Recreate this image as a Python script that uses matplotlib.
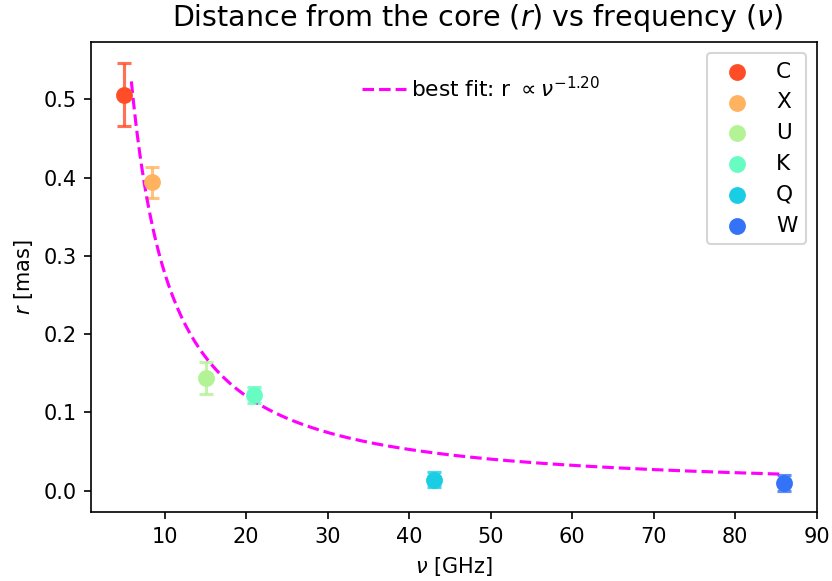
import numpy as np
import matplotlib.pyplot as plt

# frequency bands and measured core distances
bands = ['C', 'X', 'U', 'K', 'Q', 'W']
freq = np.array([5.0, 8.4, 15.0, 21.0, 43.0, 86.0])
r = np.array([0.506, 0.394, 0.144, 0.122, 0.014, 0.010])
r_err = np.array([0.040, 0.020, 0.020, 0.010, 0.010, 0.010])

# power-law fit r = a * nu^-b
fit_a = 4.4
fit_b = 1.20
fit_lo, fit_hi = 5.9, 86.0

fig = plt.figure(figsize=(832/150, 581/150), dpi=150)
ax = fig.add_subplot(111)
fig.subplots_adjust(left=0.1094, right=0.982, bottom=0.1188, top=0.9277)

colors = plt.cm.rainbow(np.linspace(0.9, 0.15, len(bands)))

points = []
for i in range(len(bands)):
    ax.errorbar(freq[i], r[i], yerr=r_err[i], fmt='none', ecolor=colors[i],
                alpha=0.8, capsize=3.5, elinewidth=1.5, capthick=1.5)
    p = ax.scatter(freq[i], r[i], color=colors[i], s=50, label=bands[i], zorder=3)
    points.append(p)

nu = np.linspace(fit_lo, fit_hi, 300)
fit_line, = ax.plot(nu, fit_a * nu**(-fit_b), '--', color='magenta', lw=1.5,
                    label='best fit: r $\\propto \\nu^{-%.2f}$' % fit_b)

leg1 = ax.legend(handles=points, loc='upper right', fontsize=10.4)
ax.add_artist(leg1)
ax.legend(handles=[fit_line], loc='upper left', bbox_to_anchor=(0.347, 0.97),
          frameon=False, handletextpad=0.25, fontsize=10.4)

ax.set_xlabel(r'$\nu$ [GHz]')
ax.set_ylabel(r'$r$ [mas]')
ax.set_title(r'Distance from the core ($r$) vs frequency ($\nu$)', fontsize=13.7,
             x=0.533, pad=7.5)

fig.savefig('out.png', dpi=150)
